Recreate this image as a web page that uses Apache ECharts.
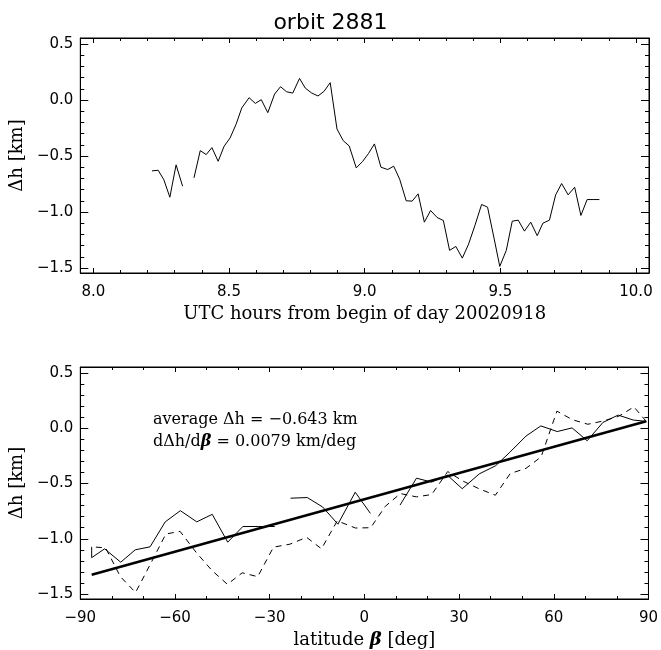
<!DOCTYPE html>
<html><head><meta charset="utf-8">
<script src="https://cdn.jsdelivr.net/npm/echarts@6/dist/echarts.min.js"></script>
<style>html,body{margin:0;padding:0;background:#fff}#c{width:661px;height:650px}</style>
</head><body><div id="c"></div>
<script>
// ---------- data ----------
const chartTitle = 'orbit 2881';
const timeTicks = [8.0, 8.5, 9.0, 9.5, 10.0];
const latTicks = [-90, -60, -30, 0, 30, 60, 90];
const dhTicks = [-1.5, -1.0, -0.5, 0.0, 0.5];

// UTC hours of each sample (null value = missing sample)
const utcHours = [
  8.216, 8.239, 8.260, 8.282, 8.305, 8.329, 8.350,
  8.371, 8.394, 8.416, 8.437, 8.460, 8.482, 8.504, 8.526, 8.547, 8.574,
  8.597, 8.619, 8.643, 8.668, 8.690, 8.712, 8.735, 8.760, 8.781, 8.803,
  8.828, 8.850, 8.873, 8.898, 8.921, 8.943, 8.969, 8.992, 9.014, 9.036,
  9.060, 9.085, 9.107, 9.129, 9.153, 9.175, 9.197, 9.220, 9.243, 9.267,
  9.290, 9.313, 9.336, 9.360, 9.383, 9.406, 9.431, 9.453, 9.476, 9.498,
  9.522, 9.544, 9.566, 9.589, 9.612, 9.636, 9.657, 9.681, 9.704, 9.726,
  9.750, 9.774, 9.797, 9.820, 9.842, 9.865
];
// Δh [km]
const deltaH = [
  -0.633, -0.627, -0.713, -0.868, -0.579, -0.770, null,
  -0.695, -0.452, -0.487, -0.425, -0.547, -0.413, -0.339, -0.217, -0.071, 0.021,
  -0.030, 0.003, -0.113, 0.053, 0.119, 0.074, 0.062, 0.193, 0.107, 0.065,
  0.036, 0.077, 0.155, -0.259, -0.363, -0.410, -0.606, -0.550, -0.478, -0.392,
  -0.600, -0.621, -0.591, -0.707, -0.900, -0.903, -0.838, -1.091, -0.987, -1.049,
  -1.076, -1.343, -1.308, -1.412, -1.287, -1.123, -0.933, -0.957, -1.224, -1.486,
  -1.343, -1.082, -1.073, -1.171, -1.091, -1.212, -1.100, -1.073, -0.847, -0.746,
  -0.847, -0.779, -1.031, -0.889, -0.889, -0.889
];
// latitude β [deg] of each sample
const latitude = [
  -23.4, -18.1, -13.2, -8.4, -2.9, 1.9, 6.7,
  11.3, 16.5, 21.3, 26.3, 31.0, 36.4, 41.6, 46.1, 51.2, 55.9,
  61.1, 65.8, 70.6, 75.6, 80.4, 85.2, 89.3, 85.4, 80.5, 75.6,
  70.8, 65.9, 61.0, 56.0, 51.2, 46.2, 41.5, 36.5, 31.2, 26.4,
  21.3, 16.5, 11.4, 6.6, 2.0, -2.8, -8.6, -13.6, -18.3, -23.6,
  -28.8, -33.8, -38.7, -43.4, -48.3, -53.3, -58.4, -62.9, -67.7, -72.5,
  -77.3, -82.0, -86.4, -86.4, -82.3, -77.2, -72.6, -67.9, -63.1, -58.3,
  -53.1, -48.2, -43.3, -38.5, -33.5, -28.4
];
const averageDh = -0.643;   // km
const slopeDh = 0.0079;     // km/deg

// ---------- helpers ----------
const fmt1 = v => (v < 0 ? '\u2212' : '') + Math.abs(v).toFixed(1);
const fmt0 = v => (v < 0 ? '\u2212' : '') + Math.abs(Math.round(v));
function range(a, b, s) { const r = []; for (let k = 0; a + k * s <= b + 1e-9; k++) r.push(+(a + k * s).toFixed(6)); return r; }
const timeMinor = range(8.0, 10.0, 0.1);
const latMinor = range(-90, 90, 10);
const dhMinor = range(-1.5, 0.5, 0.1);

const TICKFONT = {color: '#000', fontFamily: 'DejaVu Sans', fontSize: 15};
const NAMEFONT = {color: '#000', fontFamily: 'DejaVu Serif', fontSize: 18};

function axisSet(dim, g, min, max, majors, minors, majLen, minLen, fmt, name, nameGap, rich) {
  const posA = dim === 'x' ? 'bottom' : 'left';
  const posB = dim === 'x' ? 'top' : 'right';
  const base = {gridIndex: g, type: 'value', min, max, splitLine: {show: false}, silent: true};
  const mk = (pos, vals, len, label, line) => Object.assign({}, base, {
    position: pos,
    axisLine: {show: line, onZero: false, lineStyle: {color: '#000', width: 1}},
    axisTick: {show: true, inside: true, length: len, customValues: vals, lineStyle: {color: '#000', width: 1}},
    axisLabel: label ? Object.assign({show: true, customValues: majors, formatter: fmt, margin: dim === 'x' ? 12 : 7,
      showMinLabel: true, showMaxLabel: true}, TICKFONT) : {show: false}
  });
  const main = mk(posA, majors, majLen, true, true);
  main.name = name; main.nameLocation = 'middle'; main.nameGap = nameGap;
  main.nameTextStyle = Object.assign({}, NAMEFONT, rich ? {rich} : {});
  return [main, mk(posA, minors, minLen, false, false), mk(posB, majors, majLen, false, true), mk(posB, minors, minLen, false, false)];
}

const rich = {
  n: {fontFamily: 'DejaVu Serif', fontSize: 18, color: '#000'},
  b: {fontFamily: 'DejaVu Serif', fontSize: 18, fontStyle: 'italic', fontWeight: 'bold', color: '#000'}
};

const xAxes = [].concat(
  axisSet('x', 0, 7.952, 10.048, timeTicks, timeMinor, 5, 3, fmt1, 'UTC hours from begin of day 20020918', 32),
  axisSet('x', 1, -90, 90, latTicks, latMinor, 5, 3, fmt0, '{n|latitude }{b|\u03b2}{n| [deg]}', 32, rich)
);
const yAxes = [].concat(
  axisSet('y', 0, -1.545, 0.554, dhTicks, dhMinor, 8, 4, fmt1, '\u0394h [km]', 45),
  axisSet('y', 1, -1.545, 0.554, dhTicks, dhMinor, 8, 4, fmt1, '\u0394h [km]', 45)
);

// top series: Δh vs time, with a break at missing samples
const topData = utcHours.map((t, i) => deltaH[i] == null ? [t, '-'] : [t, deltaH[i]]);

// bottom: split into increasing-latitude (solid) and decreasing-latitude (dashed) parts
const solid = [], dashed = [];
let lastS = -5, lastD = -5;
for (let i = 0; i < latitude.length - 1; i++) {
  if (deltaH[i] == null || deltaH[i + 1] == null) continue;
  const up = latitude[i + 1] >= latitude[i];
  const arr = up ? solid : dashed;
  const last = up ? lastS : lastD;
  if (last !== i) {
    if (arr.length) arr.push([latitude[i], '-']);
    arr.push([latitude[i], deltaH[i]]);
  }
  arr.push([latitude[i + 1], deltaH[i + 1]]);
  if (up) lastS = i + 1; else lastD = i + 1;
}
const validLat = latitude.filter((l, i) => deltaH[i] != null);
const latMin = Math.min(...validLat), latMax = Math.max(...validLat);
const fitData = [[latMin, averageDh + slopeDh * latMin], [latMax, averageDh + slopeDh * latMax]];

const annot = 'average \u0394h = ' + (averageDh < 0 ? '\u2212' : '') + Math.abs(averageDh).toFixed(3) + ' km\n' +
  'd\u0394h/d{b|\u03b2} = ' + slopeDh.toFixed(4) + ' km/deg';

const chart = echarts.init(document.getElementById('c'), null, {renderer: 'canvas'});
chart.setOption({
  animation: false,
  backgroundColor: '#fff',
  title: [
    {text: chartTitle, left: 'center', top: 7, textStyle: {color: '#000', fontFamily: 'DejaVu Sans', fontSize: 22, fontWeight: 'normal'}},
    {text: annot, left: 148, top: 404, textStyle: {color: '#000', fontFamily: 'DejaVu Serif', fontSize: 16, fontWeight: 'normal', lineHeight: 22,
      rich: {b: {fontFamily: 'DejaVu Serif', fontSize: 16, fontStyle: 'italic', fontWeight: 'bold', color: '#000', lineHeight: 22}}}}
  ],
  grid: [
    {left: 80, top: 38, width: 569, height: 235, show: true, borderColor: '#000', borderWidth: 1, backgroundColor: 'transparent'},
    {left: 80, top: 367, width: 569, height: 235, show: true, borderColor: '#000', borderWidth: 1, backgroundColor: 'transparent'}
  ],
  xAxis: xAxes,
  yAxis: yAxes,
  series: [
    {type: 'line', xAxisIndex: 0, yAxisIndex: 0, data: topData, showSymbol: false, symbol: 'none', connectNulls: false,
      lineStyle: {color: '#000', width: 1}, silent: true},
    {type: 'line', xAxisIndex: 4, yAxisIndex: 4, data: solid, showSymbol: false, symbol: 'none', connectNulls: false,
      lineStyle: {color: '#000', width: 1}, silent: true},
    {type: 'line', xAxisIndex: 4, yAxisIndex: 4, data: dashed, showSymbol: false, symbol: 'none', connectNulls: false,
      lineStyle: {color: '#000', width: 1, type: [6, 5]}, silent: true},
    {type: 'line', xAxisIndex: 4, yAxisIndex: 4, data: fitData, showSymbol: false, symbol: 'none',
      lineStyle: {color: '#000', width: 2.5}, silent: true}
  ]
});
</script></body></html>
